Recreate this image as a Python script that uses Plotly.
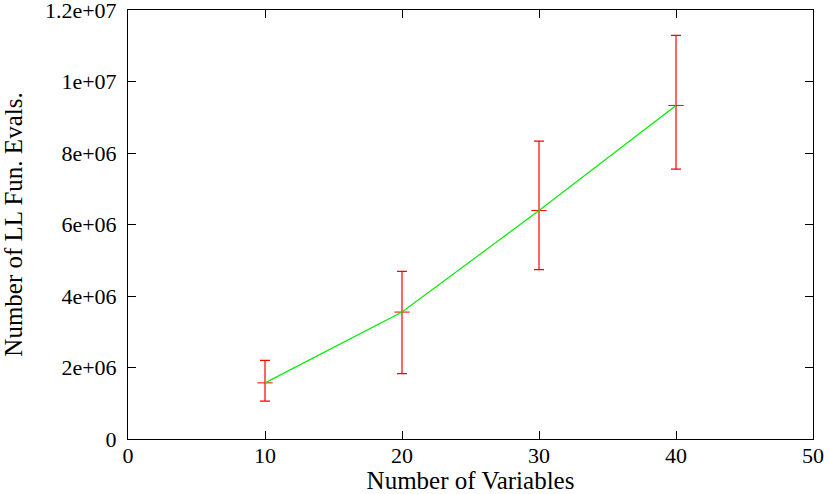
import plotly.graph_objects as go

n_vars = [10, 20, 30, 40]
evals = [1.57e6, 3.55e6, 6.39e6, 9.33e6]
err_high = [2.20e6, 4.69e6, 8.33e6, 1.129e7]
err_low = [1.06e6, 1.83e6, 4.74e6, 7.55e6]

y_tick_vals = [0, 2e6, 4e6, 6e6, 8e6, 1e7, 1.2e7]
y_tick_text = ["0", "2e+06", "4e+06", "6e+06", "8e+06", "1e+07", "1.2e+07"]

err_plus = [h - v for h, v in zip(err_high, evals)]
err_minus = [v - l for v, l in zip(evals, err_low)]

font = "Liberation Serif"

fig = go.Figure()
fig.add_trace(go.Scatter(
    x=n_vars, y=evals, mode="markers",
    marker=dict(symbol="line-ew", size=11, line=dict(color="#ff0000", width=1)),
    error_y=dict(type="data", symmetric=False, array=err_plus, arrayminus=err_minus,
                 color="#ff0000", thickness=1.2, width=5),
    showlegend=False, hoverinfo="skip"
))
fig.add_trace(go.Scatter(
    x=n_vars, y=evals, mode="lines",
    line=dict(color="#00ee00", width=1.2),
    showlegend=False
))

axis_common = dict(
    showgrid=False, zeroline=False, showline=True, linecolor="black", linewidth=1,
    mirror="ticks", ticks="inside", ticklen=8, tickcolor="black", automargin=False,
    ticklabeloverflow="allow",
    tickfont=dict(family=font, size=22, color="black"),
)
fig.update_xaxes(range=[0, 50], dtick=10, ticklabelstandoff=-3, **axis_common,
                 title=dict(text="Number of Variables", standoff=4,
                            font=dict(family=font, size=25, color="black")))
fig.update_yaxes(range=[0, 1.2e7], tickvals=y_tick_vals, ticktext=y_tick_text,
                 ticklabelstandoff=6, **axis_common,
                 title=dict(text="Number of LL Fun. Evals.", standoff=32,
                            font=dict(family=font, size=25, color="black")))
fig.update_layout(
    width=830, height=494,
    margin=dict(l=128, r=17, t=10, b=55),
    plot_bgcolor="white", paper_bgcolor="white",
)
# drop the page's default body margin so the figure fills the window
fig.write_html("out.html", config={"displayModeBar": False},
               post_script="document.body.style.margin = '0';")
